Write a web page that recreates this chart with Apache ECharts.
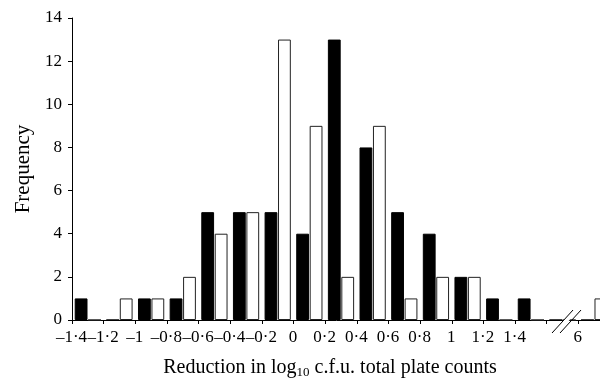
<!DOCTYPE html>
<html><head><meta charset="utf-8">
<script src="https://cdn.jsdelivr.net/npm/echarts@6/dist/echarts.min.js"></script>
<style>html,body{margin:0;padding:0;background:#fff}#c{width:600px;height:380px}</style>
</head><body><div id="c"></div>
<script>
// Bin starts (x axis categories), with a broken axis between 1.6 and 6
const bins = ['-1.4','-1.2','-1.0','-0.8','-0.6','-0.4','-0.2','0','0.2','0.4','0.6','0.8','1.0','1.2','1.4','1.6','6'];
// Tick labels at the left edge of each bin
const tickLabels = ['\u20131\u00b74','\u20131\u00b72','\u20131','\u20130\u00b78','\u20130\u00b76','\u20130\u00b74','\u20130\u00b72','0','0\u00b72','0\u00b74','0\u00b76','0\u00b78','1','1\u00b72','1\u00b74','','6'];
// Frequencies
const blackCounts = [1,0,1,1,5,5,5,4,13,8,5,4,2,1,1,0,0];
const whiteCounts = [0,1,1,2,4,5,13,9,2,9,1,2,2,0,0,0,1];
// Y axis
const yMin = 0, yMax = 14, yStep = 2;

const FONT = 'Liberation Serif';
const chart = echarts.init(document.getElementById('c'), null, {renderer: 'canvas'});
const gridLeft = 72, gridWidth = 538;
const bandW = gridWidth / bins.length;

chart.setOption({
  animation: false,
  backgroundColor: '#fff',
  grid: {left: gridLeft, width: gridWidth, top: 18, bottom: 60, containLabel: false, outerBoundsMode: 'none'},
  xAxis: {
    type: 'category',
    data: bins,
    boundaryGap: true,
    axisLine: {show: true, lineStyle: {color: '#000', width: 1}},
    axisTick: {show: true, interval: 0, alignWithLabel: false, length: 4, lineStyle: {color: '#000'}},
    axisLabel: {
      interval: 0, margin: 9, color: '#000', fontFamily: FONT, fontSize: 17,
      padding: [0, bandW + 1, 0, 0],
      formatter: (v, i) => tickLabels[i]
    },
    splitLine: {show: false},
    name: 'Reduction in log{sub|10} c.f.u. total plate counts',
    nameLocation: 'middle',
    nameGap: 37,
    nameTextStyle: {
      color: '#000', fontFamily: FONT, fontSize: 20, lineHeight: 22,
      padding: [0, 22, 0, 0],
      rich: {sub: {fontFamily: FONT, fontSize: 13, lineHeight: 11, verticalAlign: 'bottom', color: '#000'}}
    }
  },
  yAxis: {
    type: 'value',
    min: yMin, max: yMax, interval: yStep,
    axisLine: {show: true, lineStyle: {color: '#000', width: 1}},
    axisTick: {show: true, length: 4, lineStyle: {color: '#000'}},
    axisLabel: {margin: 10, color: '#000', fontFamily: FONT, fontSize: 17},
    splitLine: {show: false},
    name: 'Frequency',
    nameLocation: 'middle',
    nameGap: 38,
    nameTextStyle: {color: '#000', fontFamily: FONT, fontSize: 21}
  },
  series: [
    {
      type: 'bar', name: 'black', data: blackCounts,
      barWidth: 12.8, barGap: '5%',
      itemStyle: {color: '#000', borderColor: '#000', borderWidth: 1}
    },
    {
      type: 'bar', name: 'white', data: whiteCounts,
      barWidth: 12.8, barGap: '5%',
      itemStyle: {color: '#fff', borderColor: '#222', borderWidth: 1}
    }
  ]
});

// Axis break marks "//" between the last two labelled ticks
const cx = chart.convertToPixel({xAxisIndex: 0}, '1.6');
const y0 = chart.convertToPixel({yAxisIndex: 0}, 0);
const dx = 10.5, dy = 11.5, sep = 8;
chart.setOption({
  graphic: [
    {type: 'polygon', z: 100, shape: {points: [[cx - dx + 1, y0 + dy], [cx + dx + 1, y0 - dy], [cx + sep + dx - 1, y0 - dy], [cx + sep - dx - 1, y0 + dy]]}, style: {fill: '#fff'}},
    {type: 'line', z: 101, shape: {x1: cx - dx, y1: y0 + dy + 1.5, x2: cx + dx, y2: y0 - dy + 1.5}, style: {stroke: '#000', lineWidth: 1}},
    {type: 'line', z: 101, shape: {x1: cx + sep - dx, y1: y0 + dy + 1.5, x2: cx + sep + dx, y2: y0 - dy + 1.5}, style: {stroke: '#000', lineWidth: 1}}
  ]
});
</script>
</body></html>
